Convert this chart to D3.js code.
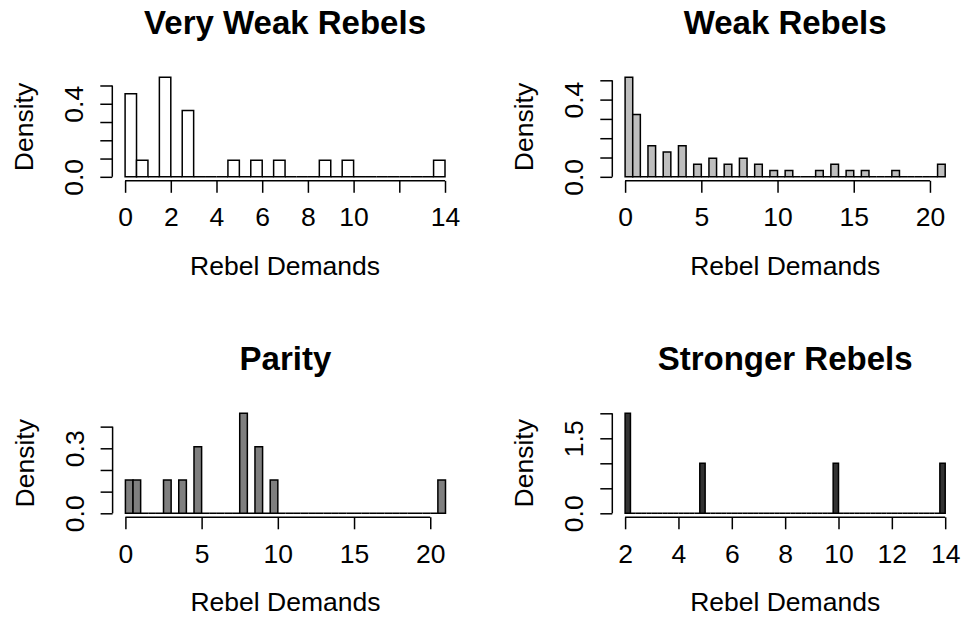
<!DOCTYPE html>
<html>
<head>
<meta charset="utf-8">
<script src="https://cdn.jsdelivr.net/npm/d3@7"></script>
<style>
  html, body { margin: 0; padding: 0; background: #ffffff; }
  svg { display: block; }
  text { font-family: "Liberation Sans", Arial, Helvetica, sans-serif; fill: #000; }
</style>
</head>
<body>
<svg id="chart" width="964" height="622"></svg>
<script>
// ---- data (observed values and their counts) ----
const vwValues = [0, 1, 2, 3, 5, 6, 7, 9, 10, 14];
const vwCounts = [5, 1, 6, 4, 1, 1, 1, 1, 1, 1];

const wValues = [0, 1, 2, 3, 4, 5, 6, 7, 8, 9, 10, 11, 13, 14, 15, 16, 18, 21];
const wCounts = [16, 10, 5, 4, 5, 2, 3, 2, 3, 2, 1, 1, 1, 2, 1, 1, 1, 2];

const pValues = [0, 1, 3, 4, 5, 8, 9, 10, 21];
const pCounts = [1, 1, 1, 1, 2, 3, 2, 1, 1];

const sValues = [2, 5, 10, 14];
const sCounts = [2, 1, 1, 1];

// ---- tick values and labels ----
const xTicks1 = [0, 2, 4, 6, 8, 10, 12, 14];
const xLabels1 = ["0", "2", "4", "6", "8", "10", "", "14"];
const yTicks1 = [0, 0.1, 0.2, 0.3, 0.4, 0.5];
const yLabels1 = ["0.0", "", "", "", "0.4", ""];

const xTicks2 = [0, 5, 10, 15, 20];
const xLabels2 = ["0", "5", "10", "15", "20"];
const yTicks2 = [0, 0.1, 0.2, 0.3, 0.4, 0.5];
const yLabels2 = ["0.0", "", "", "", "0.4", ""];

const xTicks3 = [0, 5, 10, 15, 20];
const xLabels3 = ["0", "5", "10", "15", "20"];
const yTicks3 = [0, 0.1, 0.2, 0.3, 0.4];
const yLabels3 = ["0.0", "", "", "0.3", ""];

const xTicks4 = [2, 4, 6, 8, 10, 12, 14];
const xLabels4 = ["2", "4", "6", "8", "10", "12", "14"];
const yTicks4 = [0, 0.5, 1, 1.5, 2];
const yLabels4 = ["0.0", "", "", "1.5", ""];

const titles = ["Very Weak Rebels", "Weak Rebels", "Parity", "Stronger Rebels"];
const fills = ["#ffffff", "#bebebe", "#7f7f7f", "#333333"];

const panels = [
  { title: titles[0], values: vwValues, counts: vwCounts, lo: 0, hi: 14, width: 0.5,
    xTicks: xTicks1, xLabels: xLabels1, yTicks: yTicks1, yLabels: yLabels1, fill: fills[0],
    left: 112.3, right: 457.8, top: 73.2, bottom: 180.8 },
  { title: titles[1], values: wValues, counts: wCounts, lo: 0, hi: 21, width: 0.5,
    xTicks: xTicks2, xLabels: xLabels2, yTicks: yTicks2, yLabels: yLabels2, fill: fills[1],
    left: 612.3, right: 958, top: 73.2, bottom: 180.8 },
  { title: titles[2], values: pValues, counts: pCounts, lo: 0, hi: 21, width: 0.5,
    xTicks: xTicks3, xLabels: xLabels3, yTicks: yTicks3, yLabels: yLabels3, fill: fills[2],
    left: 112.6, right: 458.3, top: 409.3, bottom: 517.3 },
  { title: titles[3], values: sValues, counts: sCounts, lo: 2, hi: 14, width: 0.2,
    xTicks: xTicks4, xLabels: xLabels4, yTicks: yTicks4, yLabels: yLabels4, fill: fills[3],
    left: 612.3, right: 958, top: 409.3, bottom: 517.3 }
];

const svg = d3.select("#chart");
const LW = 1.5;

panels.forEach(p => {
  const n = d3.sum(p.counts);
  const nb = Math.round((p.hi - p.lo) / p.width);
  // bins (empty ones have zero density)
  const bins = d3.range(nb).map(i => ({ x0: p.lo + i * p.width, x1: p.lo + (i + 1) * p.width, count: 0 }));
  p.values.forEach((v, i) => {
    let k = Math.ceil((v - p.lo) / p.width - 1e-9) - 1;
    if (k < 0) k = 0;
    bins[k].count += p.counts[i];
  });
  bins.forEach(b => b.density = b.count / (n * p.width));
  const maxD = d3.max(bins, b => b.density);

  const xExt = (p.hi - p.lo) * 0.04;
  const yExt = maxD * 0.04;
  const x = d3.scaleLinear().domain([p.lo - xExt, p.hi + xExt]).range([p.left, p.right]);
  const y = d3.scaleLinear().domain([0 - yExt, maxD + yExt]).range([p.bottom, p.top]);

  const g = svg.append("g");

  // bars
  g.selectAll("path.bar").data(bins).enter().append("path")
    .attr("class", "bar")
    .attr("d", b => `M${x(b.x0)},${y(0)}V${y(b.density)}H${x(b.x1)}V${y(0)}Z`)
    .attr("fill", p.fill)
    .attr("stroke", "#000")
    .attr("stroke-width", LW)
    .attr("stroke-linejoin", "miter");

  // x axis
  const xa = g.append("g").attr("transform", `translate(0,${p.bottom})`)
    .call(d3.axisBottom(x).tickValues(p.xTicks)
      .tickFormat((d, i) => p.xLabels[i]).tickSize(12).tickSizeOuter(0));
  xa.select(".domain").attr("d", `M${x(p.xTicks[0])},0H${x(p.xTicks[p.xTicks.length - 1])}`)
    .attr("stroke", "#000").attr("stroke-width", LW);
  xa.selectAll(".tick line").attr("stroke", "#000").attr("stroke-width", LW);
  xa.selectAll(".tick text").attr("y", 45.5).attr("dy", null)
    .attr("font-size", 26.5).attr("font-family", "'Liberation Sans', Arial, sans-serif");

  // y axis
  const ya = g.append("g").attr("transform", `translate(${p.left},0)`)
    .call(d3.axisLeft(y).tickValues(p.yTicks)
      .tickFormat((d, i) => p.yLabels[i]).tickSize(12).tickSizeOuter(0));
  ya.select(".domain").attr("d", `M0,${y(p.yTicks[0])}V${y(p.yTicks[p.yTicks.length - 1])}`)
    .attr("stroke", "#000").attr("stroke-width", LW);
  ya.selectAll(".tick line").attr("stroke", "#000").attr("stroke-width", LW);
  ya.selectAll(".tick text")
    .attr("x", null).attr("dy", null)
    .attr("text-anchor", "middle")
    .attr("transform", "translate(-29,0) rotate(-90)")
    .attr("font-size", 26.5).attr("font-family", "'Liberation Sans', Arial, sans-serif");

  // axis titles
  g.append("text")
    .attr("x", (p.left + p.right) / 2).attr("y", p.bottom + 94)
    .attr("text-anchor", "middle").attr("font-size", 26.5)
    .text("Rebel Demands");
  g.append("text")
    .attr("transform", `translate(${p.left - 79},${(p.top + p.bottom) / 2}) rotate(-90)`)
    .attr("text-anchor", "middle").attr("font-size", 26.5)
    .text("Density");

  // main title
  g.append("text")
    .attr("x", (p.left + p.right) / 2).attr("y", p.top - 39.5)
    .attr("text-anchor", "middle").attr("font-size", 33).attr("font-weight", "bold")
    .text(p.title);
});
</script>
</body>
</html>
